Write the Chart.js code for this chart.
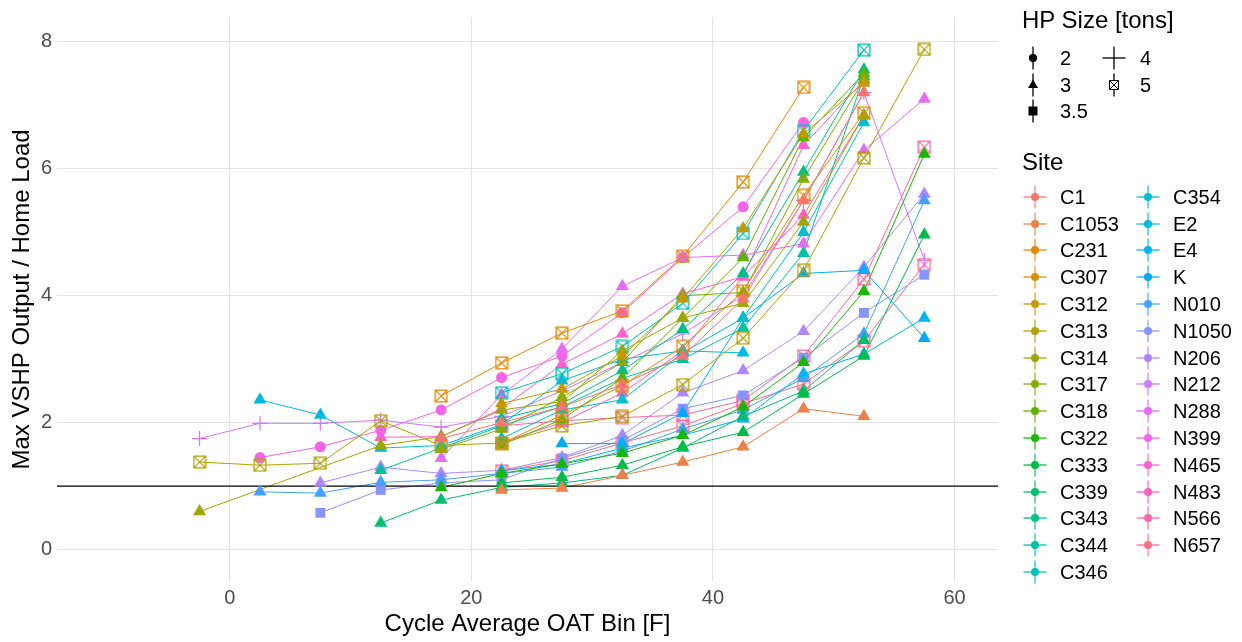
<!DOCTYPE html>
<html><head><meta charset="utf-8">
<script src="https://cdn.jsdelivr.net/npm/chart.js@4"></script>
<style>
body{margin:0;background:#fff;font-family:"Liberation Sans",Arial,sans-serif;}
#wrap{position:relative;width:1242px;height:642px;overflow:hidden;}
#c{position:absolute;left:0;top:0;}
.t{position:absolute;white-space:nowrap;line-height:1;transform:translateY(-50%);color:#000;}
.k{position:absolute;}
</style></head><body>
<div id="wrap"><canvas id="c" width="1242" height="642"></canvas><div id="legend"></div></div>
<script>
// ---- data ----
const xBins = [-2.5, 2.5, 7.5, 12.5, 17.5, 22.5, 27.5, 32.5, 37.5, 42.5, 47.5, 52.5, 57.5];
const sites = ["C1","C1053","C231","C307","C312","C313","C314","C317","C318","C322","C333","C339","C343","C344","C346","C354","E2","E4","K","N010","N1050","N206","N212","N288","N399","N465","N483","N566","N657"];
const hpSizes = [3,3,5,5,3,5,3,3,3,3,3,3,3,3,5,3,3,3,3,3,3.5,3,4,3,2,3,3,5,5];
const hpLevels = ["2","3","3.5","4","5"];
const xTicks = [0, 20, 40, 60];
const yTicks = [0, 2, 4, 6, 8];
const refLine = 1;
const _ = null;
//            -2.5 2.5  7.5  12.5 17.5 22.5 27.5 32.5 37.5 42.5 47.5 52.5 57.5
const C1    = [_,   _,   _,   _,   1.75,2.00,2.25,2.60,3.05,3.95,5.50,7.20,_   ];
const C1053 = [_,   _,   _,   _,   _,   0.94,0.97,1.17,1.38,1.62,2.22,2.10,_   ];
const C231  = [_,   _,   _,   _,   2.42,2.94,3.41,3.76,4.62,5.79,7.28,_,   _   ];
const C307  = [_,   _,   _,   _,   _,   1.67,2.12,2.58,3.20,4.07,5.58,6.88,_   ];
const C312  = [_,   _,   _,   _,   _,   2.30,2.53,3.05,3.95,5.06,6.55,7.35,_   ];
const C313  = [1.38,1.33,1.36,2.03,1.64,1.68,1.95,2.10,2.60,3.33,4.40,6.17,7.88];
const C314  = [0.60,_,   _,   1.64,1.78,2.20,2.33,3.13,3.65,3.88,5.16,6.84,_   ];
const C317  = [_,   _,   _,   _,   1.58,1.90,2.40,2.95,4.00,4.05,5.84,7.40,_   ];
const C318  = [_,   _,   _,   _,   _,   1.65,2.05,2.70,3.65,4.60,6.49,7.50,_   ];
const C322  = [_,   _,   _,   _,   0.98,1.20,1.35,1.52,1.80,2.25,2.95,4.07,6.23];
const C333  = [_,   _,   _,   _,   _,   1.05,1.14,1.33,1.62,1.85,2.45,3.05,4.96];
const C339  = [_,   _,   _,   0.42,0.78,0.98,1.05,1.17,1.60,2.10,2.50,3.30,_   ];
const C343  = [_,   _,   _,   _,   _,   2.06,2.30,2.82,3.47,4.35,5.95,7.56,_   ];
const C344  = [_,   _,   _,   1.25,1.60,1.95,2.25,2.70,3.00,3.49,4.67,7.45,_   ];
const C346  = [_,   _,   _,   _,   _,   2.47,2.77,3.20,3.88,4.98,6.60,7.87,_   ];
const C354  = [_,   _,   _,   _,   _,   1.75,2.20,2.36,3.10,3.65,5.00,6.73,_   ];
const E2    = [_,   2.36,2.12,1.60,1.64,1.97,2.66,3.00,3.13,3.10,_,   _,   _   ];
const E4    = [_,   _,   _,   _,   _,   1.24,1.35,1.60,1.80,2.06,2.77,3.08,3.65];
const K     = [_,   _,   _,   _,   _,   _,   1.67,1.67,2.15,3.65,4.35,4.40,3.33];
const N010  = [_,   0.91,0.89,1.06,1.10,1.20,1.30,1.55,1.90,2.20,2.70,3.40,5.50];
const N1050 = [_,   _,   0.58,0.94,1.05,1.10,1.44,1.72,2.22,2.43,3.02,3.73,4.33];
const N206  = [_,   _,   1.05,1.30,1.20,1.25,1.45,1.80,2.47,2.82,3.44,4.45,5.60];
const N212  = [1.75,1.99,1.99,2.04,1.93,2.10,2.50,2.95,3.40,4.00,5.50,7.20,4.56];
const N288  = [_,   _,   _,   _,   1.44,2.44,3.16,4.15,4.60,4.64,4.82,6.29,7.10];
const N399  = [_,   1.45,1.62,1.88,2.20,2.71,3.05,3.73,4.60,5.40,6.73,_,   _   ];
const N465  = [_,   _,   _,   1.77,1.78,2.22,2.92,3.40,4.03,4.30,6.37,7.39,_   ];
const N483  = [_,   _,   _,   _,   _,   1.69,2.00,2.47,3.13,4.30,5.27,6.84,_   ];
const N566  = [_,   _,   _,   _,   _,   1.95,2.03,2.08,2.12,2.35,3.05,4.26,6.34];
const N657  = [_,   _,   _,   _,   _,   1.24,1.40,1.68,1.95,2.30,2.61,3.29,4.49];
const siteValues = [C1,C1053,C231,C307,C312,C313,C314,C317,C318,C322,C333,C339,C343,C344,C346,C354,E2,E4,K,N010,N1050,N206,N212,N288,N399,N465,N483,N566,N657];

// ---- colours (ggplot2 hue palette) ----
function hcl(h, c, l) {
  const hr = h * Math.PI / 180, U = c * Math.cos(hr), V = c * Math.sin(hr);
  const Xn = 95.047, Yn = 100, Zn = 108.883, d = Xn + 15 * Yn + 3 * Zn;
  const un = 4 * Xn / d, vn = 9 * Yn / d;
  const Y = l > 8 ? Yn * Math.pow((l + 16) / 116, 3) : Yn * l / 903.3;
  const up = U / (13 * l) + un, vp = V / (13 * l) + vn;
  const X = 9 * Y * up / (4 * vp), Z = -X / 3 - 5 * Y + 3 * Y / vp;
  const x = X / 100, y = Y / 100, z = Z / 100;
  const lin = [3.240479 * x - 1.53715 * y - 0.498535 * z,
               -0.969256 * x + 1.875992 * y + 0.041556 * z,
               0.055648 * x - 0.204043 * y + 1.057311 * z];
  const g = lin.map(v => { v = v <= 0.0031308 ? 12.92 * v : 1.055 * Math.pow(v, 1 / 2.4) - 0.055; return Math.round(Math.min(1, Math.max(0, v)) * 255); });
  return 'rgb(' + g.join(',') + ')';
}
const colors = sites.map((s, i) => hcl(15 + i * 360 / sites.length, 100, 65));

// ---- shapes ----
function boxX(col, s, lw) {
  const cv = document.createElement('canvas'); cv.width = s; cv.height = s;
  const c = cv.getContext('2d'); c.strokeStyle = col; c.lineWidth = lw;
  const a = lw / 2 + 0.5, b = s - lw / 2 - 0.5;
  c.strokeRect(a, a, b - a, b - a);
  c.beginPath(); c.moveTo(a, a); c.lineTo(b, b); c.moveTo(b, a); c.lineTo(a, b); c.stroke();
  return cv;
}
function shapeFor(size, col) {
  switch (size) {
    case 2: return {style: 'circle', r: 5.5, bw: 0};
    case 3: return {style: 'triangle', r: 7.5, bw: 0};
    case 3.5: return {style: 'rect', r: 7, bw: 0};
    case 4: return {style: 'cross', r: 7.5, bw: 1.2};
    default: return {style: boxX(col, 14, 1.3), r: 7, bw: 0};
  }
}

// ---- datasets ----
const datasets = [];
sites.forEach((s, i) => {
  const pts = xBins.map((x, j) => ({x: x, y: siteValues[i][j]})).filter(p => p.y !== null);
  datasets.push({label: s, data: pts, borderColor: colors[i], borderWidth: 1, pointRadius: 0, fill: false, tension: 0, order: 3});
  const sh = shapeFor(hpSizes[i], colors[i]);
  datasets.push({label: s + ' pts', data: pts, showLine: false, pointStyle: sh.style, pointRadius: sh.r, pointHoverRadius: sh.r,
    pointBackgroundColor: colors[i], pointBorderColor: colors[i], pointBorderWidth: sh.bw, order: 1});
});
const xMin = -14.3, xMax = 63.6;
datasets.push({label: 'ref', data: [{x: xMin, y: refLine}, {x: xMax, y: refLine}], borderColor: '#000', borderWidth: 1.2, pointRadius: 0, order: 2});

Chart.defaults.font.family = '"Liberation Sans", Arial, sans-serif';
new Chart(document.getElementById('c'), {
  type: 'line',
  data: {datasets: datasets},
  options: {
    responsive: false, animation: false, events: [],
    layout: {padding: {left: 0, right: 244, top: 13, bottom: 0}},
    plugins: {legend: {display: false}, tooltip: {enabled: false}},
    scales: {
      x: {type: 'linear', min: xMin, max: xMax,
        afterBuildTicks: sc => { sc.ticks = xTicks.map(v => ({value: v})); },
        afterFit: sc => { sc.height = 60; },
        ticks: {font: {size: 20}, color: '#4d4d4d', padding: 4, maxRotation: 0},
        grid: {color: '#e3e3e3', lineWidth: 1, drawTicks: false}, border: {display: false},
        title: {display: true, text: 'Cycle Average OAT Bin [F]', font: {size: 24}, color: '#000', padding: {top: 0, bottom: 3}}},
      y: {type: 'linear', min: -0.51, max: 8.39,
        afterBuildTicks: sc => { sc.ticks = yTicks.map(v => ({value: v})); },
        afterFit: sc => { sc.width = 57; },
        ticks: {font: {size: 20}, color: '#4d4d4d', padding: 5},
        grid: {color: '#e3e3e3', lineWidth: 1, drawTicks: false}, border: {display: false},
        title: {display: true, text: 'Max VSHP Output / Home Load', font: {size: 24}, color: '#000', padding: {top: 8, bottom: 0}}}
    }
  }
});

// ---- legend (HTML) ----
const leg = document.getElementById('legend');
function text(str, x, y, size) {
  const d = document.createElement('div'); d.className = 't';
  d.style.left = x + 'px'; d.style.top = y + 'px'; d.style.fontSize = size + 'px'; d.textContent = str;
  leg.appendChild(d);
}
function svgKey(x, y, inner) {
  const d = document.createElement('div'); d.className = 'k';
  d.style.left = (x - 13) + 'px'; d.style.top = (y - 13) + 'px';
  d.innerHTML = '<svg width="26" height="26" viewBox="-13 -13 26 26">' + inner + '</svg>';
  leg.appendChild(d);
}
text('HP Size [tons]', 1022, 20, 24);
const hpPos = [[1033, 58, 1060], [1033, 85, 1060], [1033, 111, 1060], [1114, 58, 1140], [1114, 85, 1140]];
const hpGlyph = [
  '<circle cx="0" cy="0" r="4.2" fill="#000"/>',
  '<polygon points="0,-5.5 5,3 -5,3" fill="#000"/>',
  '<rect x="-4.5" y="-4.5" width="9" height="9" fill="#000"/>',
  '<path d="M-11.5 0H11.5" stroke="#000" stroke-width="1.3"/>',
  '<path d="M-4.5 -4.5H4.5V4.5H-4.5Z M-4.5 -4.5L4.5 4.5 M4.5 -4.5L-4.5 4.5" stroke="#000" stroke-width="1" fill="#fff"/>'
];
hpLevels.forEach((lv, i) => {
  const p = hpPos[i];
  svgKey(p[0], p[1], '<path d="M0 -11.5V11.5" stroke="#000" stroke-width="1.3"/>' + hpGlyph[i]);
  text(lv, p[2], p[1], 20);
});
text('Site', 1022, 162, 24);
sites.forEach((s, i) => {
  const col = i < 15 ? 0 : 1, row = i < 15 ? i : i - 15;
  const cx = col === 0 ? 1035 : 1148, lx = col === 0 ? 1060 : 1173, cy = 196.7 + row * 26.8;
  svgKey(cx, cy, '<path d="M-11.5 0H11.5M0 -11.5V11.5" stroke="' + colors[i] + '" stroke-width="1.3" opacity="0.85"/>' +
    '<circle cx="0" cy="0" r="4" fill="' + colors[i] + '"/>');
  text(s, lx, cy, 20);
});
</script>
</body></html>
